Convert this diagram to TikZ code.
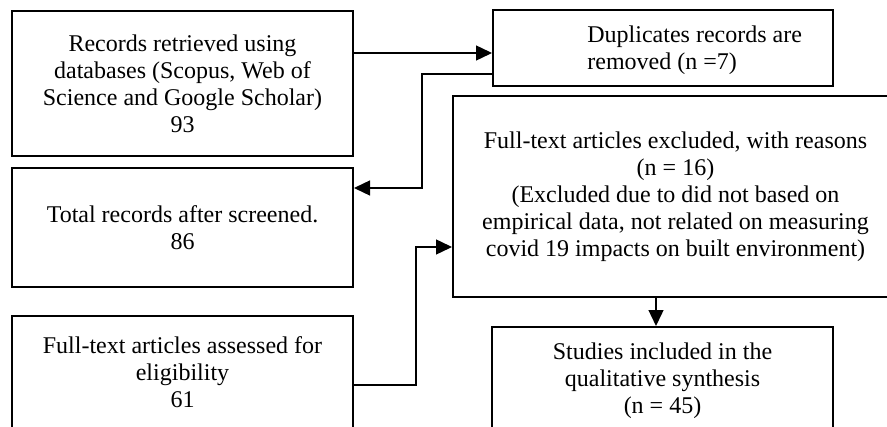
\documentclass[tikz,border=0pt]{standalone}
\usepackage{fontspec}
\setmainfont{Liberation Serif}
\usetikzlibrary{arrows.meta}

\begin{document}
\begin{tikzpicture}[x=0.5pt, y=-0.5pt,
        box/.style={draw, line width=1pt, inner sep=0pt},
        txt/.style={align=center, inner sep=0pt, font=\fontsize{12pt}{13.5pt}\selectfont},
        flow/.style={line width=0.7pt, -{Triangle[length=8pt, width=7.5pt]}}]
        \useasboundingbox (0,0) rectangle (887,427);

        % left column
        \node[box, txt, minimum width=170.5pt, minimum height=72.5pt] (rec) at (182.5, 83.5)
            {Records retrieved using\\databases (Scopus, Web of\\Science and Google Scholar)\\93};
        \node[box, txt, minimum width=170.5pt, minimum height=59.5pt] (tot) at (182.5, 227.5)
            {Total records after screened.\\86};
        \node[box, txt, minimum width=170.5pt, minimum height=56pt] (ass) at (182.5, 372)
            {Full-text articles assessed for\\eligibility\\61};

        % right column
        \node[box, minimum width=170pt, minimum height=38pt] (dup) at (663, 48) {};
        \node[txt, align=left, anchor=west] (dupText) at (587, 50.5)
            {Duplicates records are\\removed (n =7)};
        \node[box, txt, minimum width=222.5pt, minimum height=100.5pt] (exc) at (675.5, 196.5)
            {Full-text articles excluded, with reasons\\(n = 16)\\(Excluded due to did not based on\\empirical data, not related on measuring\\covid 19 impacts on built environment)};
        \node[box, txt, minimum width=170.5pt, minimum height=53.5pt] (stu) at (662.5, 380.5)
            {Studies included in the\\qualitative synthesis\\(n = 45)};

        \coordinate (dupTurn) at (422, 188);
        \coordinate (exclTurn) at (416, 385);

        \draw[flow] ([yshift=-2.5pt]dup.west -| rec.east) -- ([yshift=-2.5pt]dup.west);
        \draw[flow] ([yshift=-13pt]dup.west) -| (dupTurn) -- (dupTurn -| tot.east);
        \draw[flow] (exclTurn -| ass.east) -- (exclTurn) |- ([yshift=-25.25pt]exc.west);
        \draw[flow] ([xshift=-3.25pt]stu.north |- exc.south) -- ([xshift=-3.25pt]stu.north);
    \end{tikzpicture}
\end{document}
